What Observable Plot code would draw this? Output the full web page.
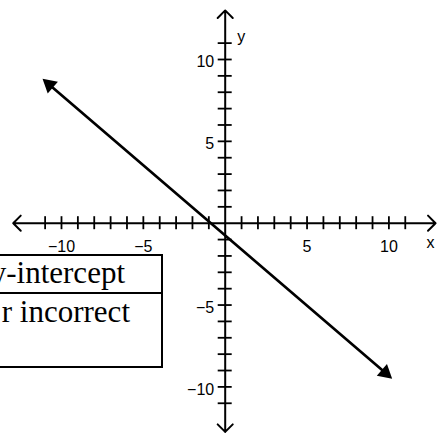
<!DOCTYPE html>
<html>
<head>
<meta charset="utf-8">
<script src="https://cdn.jsdelivr.net/npm/d3@7"></script>
<script src="https://cdn.jsdelivr.net/npm/@observablehq/plot@0.6"></script>
<style>
  html, body { margin: 0; padding: 0; background: #fff; }
  #wrap { position: relative; width: 443px; height: 434px; overflow: hidden; }
  #wrap svg { position: absolute; left: 0; top: 0; }
  #box {
    position: absolute; left: -100px; top: 254px; box-sizing: border-box;
    width: 262.5px; height: 114.3px; border: 2px solid #000; background: #fff;
    font-family: "Liberation Serif", "Times New Roman", serif; font-size: 31px; line-height: 30px; color: #000;
  }
  #box .div { position: absolute; left: 0; right: 0; top: 36.3px; height: 0; border-top: 2px solid #000; }
  #box .t { position: absolute; white-space: nowrap; }
</style>
</head>
<body>
<div id="wrap"></div>
<script>
// ---- data ----
const xTicks = [-11,-10,-9,-8,-7,-6,-5,-4,-3,-2,-1,1,2,3,4,5,6,7,8,9,10,11];
const yTicks = [-11,-10,-9,-8,-7,-6,-5,-4,-3,-2,-1,1,2,3,4,5,6,7,8,9,10,11];
const xTickLabels = [-10, -5, 5, 10];
const yTickLabels = [-10, -5, 5, 10];
const axisX = [-12.95, 12.85];   // ends of horizontal axis
const axisY = [-12.75, 13.0];    // ends of vertical axis
const lineX = [-10.74, 9.78];    // line endpoints (arrowhead centres)
const lineY = [8.46, -9.14];
const boxRows = ["y-intercept", "r incorrect"];

const fmt = d3.format("d");
const linePts = lineX.map((x, i) => ({x, y: lineY[i]}));

const chart = Plot.plot({
  width: 443,
  height: 434,
  margin: 0,
  x: {domain: [-13.726, 13.335], axis: null},
  y: {domain: [-12.908, 13.604], axis: null},
  style: {fontFamily: "'Liberation Sans', Arial, sans-serif", fontSize: "16px", color: "#000", background: "#fff"},
  marks: [
    // axes with open arrowheads
    Plot.arrow(axisX, {x1: 0, y1: 0, x2: d => d, y2: 0, stroke: "#000", strokeWidth: 2, headAngle: 90, headLength: 8}),
    Plot.arrow(axisY, {x1: 0, y1: 0, x2: 0, y2: d => d, stroke: "#000", strokeWidth: 2, headAngle: 90, headLength: 8}),
    // tick marks
    Plot.ruleX(xTicks, {x: d => d, y1: 0, y2: 0, insetTop: -6.5, insetBottom: -6.5, stroke: "#000", strokeWidth: 1.8}),
    Plot.ruleY(yTicks, {y: d => d, x1: 0, x2: 0, insetLeft: -7, insetRight: -7, stroke: "#000", strokeWidth: 1.8}),
    // tick labels
    Plot.text(xTickLabels, {x: d => d, y: 0, dy: 24, text: d => fmt(d), fill: "#000"}),
    Plot.text(yTickLabels, {x: 0, y: d => d, dx: -11, dy: 2.7, textAnchor: "end", text: d => fmt(d), fill: "#000"}),
    // axis names
    Plot.text(["x"], {frameAnchor: "right", y: 0, dx: -13, dy: 20, text: d => d, textAnchor: "middle", fill: "#000"}),
    Plot.text(["y"], {x: 0, frameAnchor: "top", dx: 16, dy: 30, text: d => d, textAnchor: "middle", fill: "#000"}),
    // the line with filled arrowheads
    Plot.line(linePts, {x: "x", y: "y", stroke: "#000", strokeWidth: 2.7}),
    Plot.dot(linePts.slice(0, 1), {x: "x", y: "y", symbol: "triangle", r: 5.8, fill: "#000", stroke: "none", rotate: -49.4}),
    Plot.dot(linePts.slice(1), {x: "x", y: "y", symbol: "triangle", r: 5.8, fill: "#000", stroke: "none", rotate: 130.6})
  ]
});

const wrap = document.getElementById("wrap");
wrap.appendChild(chart);

// overlapping annotation box (clipped at the left edge, as in the reference)
const box = document.createElement("div");
box.id = "box";
const sep = document.createElement("div");
sep.className = "div";
box.appendChild(sep);
const t1 = document.createElement("span");
t1.className = "t"; t1.textContent = boxRows[0];
t1.style.right = "35.5px"; t1.style.top = "2px";
const t2 = document.createElement("span");
t2.className = "t"; t2.textContent = boxRows[1];
t2.style.right = "30.5px"; t2.style.top = "41px";
box.appendChild(t1);
box.appendChild(t2);
wrap.appendChild(box);
</script>
</body>
</html>
